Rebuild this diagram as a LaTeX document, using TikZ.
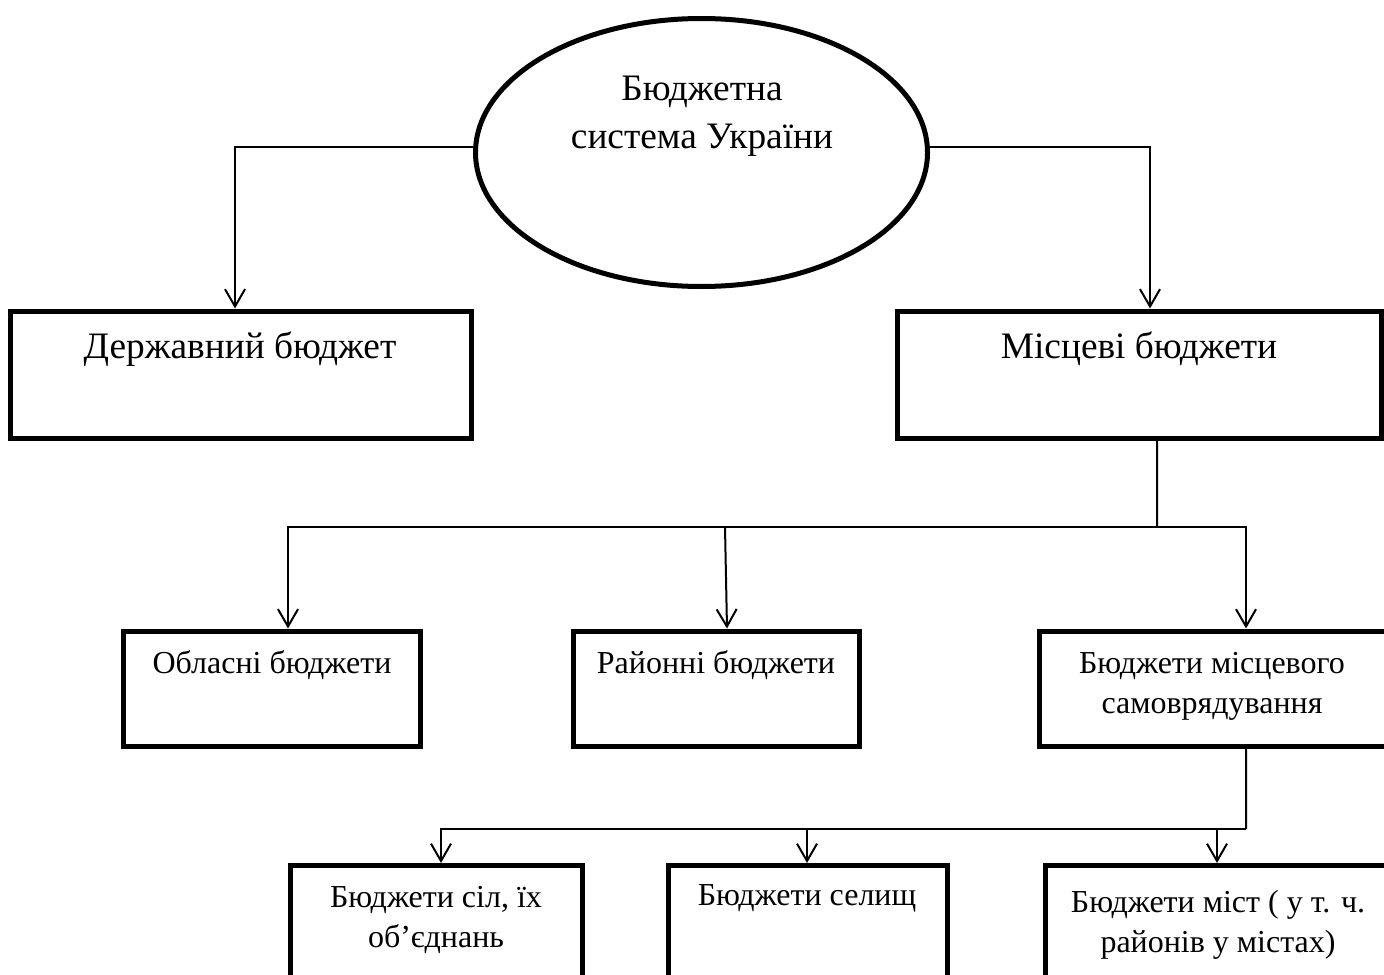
\documentclass[tikz,border=0pt]{standalone}
\usepackage{fontspec}
\setmainfont{Liberation Serif}
\usetikzlibrary{shapes.geometric,arrows.meta}
\begin{document}
\begin{tikzpicture}[x=0.75pt,y=-0.75pt,
  box/.style={draw,line width=3.75pt,rectangle,inner sep=0pt},
  conn/.style={line width=1.5pt},
  arr/.style={line width=1.5pt,-{Straight Barb[length=13pt,width=15pt]}},
  big/.style={font=\fontsize{28}{36}\selectfont,align=center,inner sep=0pt,anchor=base},
  small/.style={font=\fontsize{24}{30}\selectfont,align=center,inner sep=0pt,anchor=base}]
\clip (0,0) rectangle (1384,974);
\fill[white] (0,0) rectangle (1384,974);
% ellipse
\node[draw,ellipse,line width=3.75pt,inner sep=0pt,minimum width=339pt,minimum height=201pt] (E) at (701.5,152.5) {};
\node[big] (tE) at (702,148) {Бюджетна\\система України};
% level 1
\node[box,minimum width=345.375pt,minimum height=95.625pt] (A) at (240.75,374.75) {};
\node[box,minimum width=362.625pt,minimum height=95.625pt] (B) at (1139.25,374.75) {};
\node[big] (tA) at (240,358) {Державний бюджет};
\node[big] (tB) at (1139,358) {Місцеві бюджети};
% level 2
\node[box,minimum width=222.75pt,minimum height=86.625pt] (C) at (272,688.75) {};
\node[box,minimum width=214.5pt,minimum height=86.625pt] (D) at (716.5,688.75) {};
\node[box,minimum width=259.875pt,minimum height=86.625pt] (S) at (1212.75,688.75) {};
\node[small] (tC) at (272,673) {Обласні бюджети};
\node[small] (tD) at (716,673) {Районні бюджети};
\node[small] (tS) at (1212,713) {Бюджети місцевого\\самоврядування};
% level 3
\node[box,minimum width=219pt,minimum height=97.5pt] (F) at (436.5,930.5) {};
\node[box,minimum width=209.25pt,minimum height=97.5pt] (G) at (808,930.5) {};
\node[box,minimum width=259.125pt,minimum height=97.5pt] (H) at (1218.25,930.5) {};
\node[small] (tF) at (436,947) {Бюджети сіл, їх\\об’єднань};
\node[small] (tG) at (807,905) {Бюджети селищ};
\node[small] (tH) at (1218,952) {Бюджети міст ( у т. ч.\\районів у містах)};
% connectors
\draw[arr] ([yshift=4.1pt]E.west) -| ([xshift=-4.31pt]A.north);
\draw[arr] ([yshift=4.1pt]E.east) -| ([xshift=8.06pt]B.north);
\coordinate (j1) at (1157,527);
\coordinate (j1d) at (725,527);
\draw[conn] ([xshift=13.31pt]B.south) -- (j1);
\draw[arr] (j1) -| ([xshift=12pt]C.north);
\draw[arr] (j1) -| ([xshift=24.94pt]S.north);
\draw[arr] (j1d) -- ([xshift=7.875pt]D.north);
\coordinate (j2) at (1246,829);
\coordinate (gN) at ([xshift=-0.75pt]G.north);
\coordinate (hN) at ([xshift=-0.94pt]H.north);
\draw[conn] ([xshift=24.94pt]S.south) -- (j2);
\draw[arr] (j2) -| ([xshift=3.375pt]F.north);
\draw[arr] (gN |- j2) -- (gN);
\draw[arr] (hN |- j2) -- (hN);
\end{tikzpicture}
\end{document}
